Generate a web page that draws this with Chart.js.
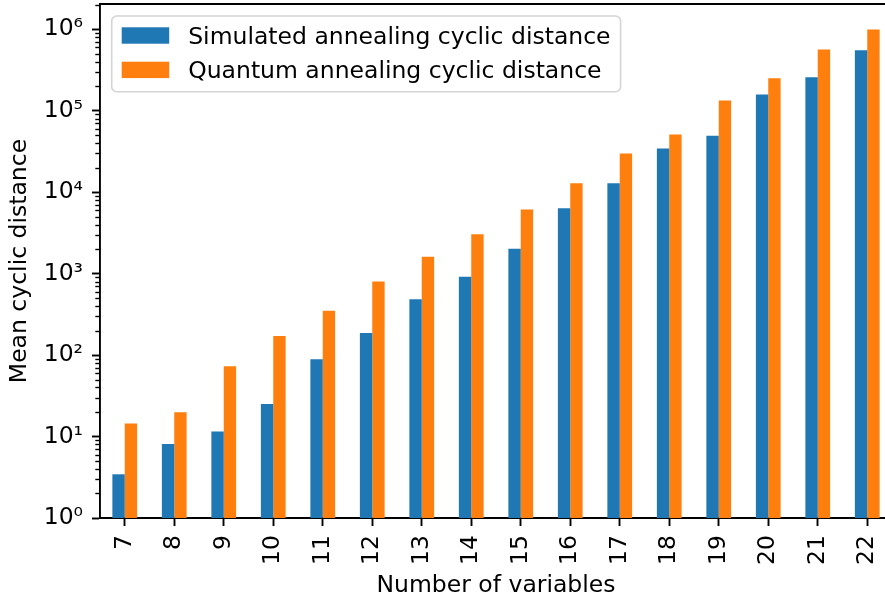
<!DOCTYPE html>
<html>
<head>
<meta charset="utf-8">
<script src="https://cdn.jsdelivr.net/npm/chart.js@4/dist/chart.umd.min.js"></script>
<style>
  html, body { margin: 0; padding: 0; background: #fff; overflow: hidden; width: 885px; height: 601px; }
  #wrap { width: 900px; height: 601px; position: relative; }
</style>
</head>
<body>
<div id="wrap"><canvas id="c" width="900" height="601"></canvas></div>
<script>
// Problem sizes on the x axis
const categories = ['7', '8', '9', '10', '11', '12', '13', '14', '15', '16', '17', '18', '19', '20', '21', '22'];

// Mean cyclic distance per solver
const simulatedDistance = [3.44, 8.1, 11.5, 25, 89, 186, 486, 914, 2020, 6360, 12900, 34400, 49100, 158000, 258000, 553000];
const quantumDistance   = [14.5, 19.8, 73, 172, 350, 802, 1610, 3050, 6130, 12900, 29900, 51000, 133000, 250000, 564000, 991000];

const seriesLabels = ['Simulated annealing cyclic distance', 'Quantum annealing cyclic distance'];
const seriesColors = ['#1f77b4', '#ff7f0e'];

// Major ticks of the log axis and its range
const yTickValues = [1, 10, 100, 1000, 10000, 100000, 1000000];
const yMin = 1;
const yMax = 2.04e6;

const FONT = 'DejaVu Sans';
const FSIZE = 23.5;
const SUP = { '0': '\u2070', '1': '\u00b9', '2': '\u00b2', '3': '\u00b3', '4': '\u2074', '5': '\u2075', '6': '\u2076', '7': '\u2077', '8': '\u2078', '9': '\u2079', '-': '\u207b' };
const powerLabel = v => {
  const e = Math.round(Math.log10(v));
  return '10' + String(e).split('').map(ch => SUP[ch]).join('');
};

// Minor log ticks, top/right spines and the boxed legend inside the plot area
const framePlugin = {
  id: 'frame',
  afterDraw(chart) {
    const { ctx, chartArea: a, scales: { y } } = chart;
    ctx.save();
    ctx.strokeStyle = '#000';
    ctx.lineWidth = 1.4;
    for (let e = 0; e < 7; e++) {
      for (let m = 2; m < 10; m++) {
        const v = m * Math.pow(10, e);
        if (v > y.max) break;
        const py = Math.round(y.getPixelForValue(v)) + 0.5;
        ctx.beginPath();
        ctx.moveTo(a.left - 4.7, py);
        ctx.lineTo(a.left, py);
        ctx.stroke();
      }
    }
    ctx.lineWidth = 1.9;
    ctx.beginPath();
    ctx.moveTo(a.left, a.top);
    ctx.lineTo(a.right, a.top);
    ctx.lineTo(a.right, a.bottom);
    ctx.stroke();

    // legend
    ctx.font = FSIZE + 'px "' + FONT + '"';
    const textW = Math.max(...chart.data.datasets.map(d => ctx.measureText(d.label).width));
    const bx = a.left + 11.7, by = a.top + 12;
    const handleX = bx + 10, handleW = 47.5, handleH = 16.4;
    const textX = handleX + handleW + 19;
    const bw = textX - bx + textW + 10, bh = 75.7;
    const r = 5;
    ctx.beginPath();
    ctx.moveTo(bx + r, by);
    ctx.lineTo(bx + bw - r, by);
    ctx.arcTo(bx + bw, by, bx + bw, by + r, r);
    ctx.lineTo(bx + bw, by + bh - r);
    ctx.arcTo(bx + bw, by + bh, bx + bw - r, by + bh, r);
    ctx.lineTo(bx + r, by + bh);
    ctx.arcTo(bx, by + bh, bx, by + bh - r, r);
    ctx.lineTo(bx, by + r);
    ctx.arcTo(bx, by, bx + r, by, r);
    ctx.closePath();
    ctx.fillStyle = 'rgba(255,255,255,0.8)';
    ctx.fill();
    ctx.strokeStyle = '#d4d4d4';
    ctx.lineWidth = 1.6;
    ctx.stroke();

    ctx.textBaseline = 'alphabetic';
    ctx.textAlign = 'left';
    chart.data.datasets.forEach((d, i) => {
      const rowTop = by + 11.3 + i * 34.4;
      ctx.fillStyle = d.backgroundColor;
      ctx.fillRect(handleX, rowTop, handleW, handleH);
      ctx.fillStyle = '#000';
      ctx.fillText(d.label, textX, rowTop + 16.2);
    });
    ctx.restore();
  }
};

new Chart(document.getElementById('c'), {
  type: 'bar',
  data: {
    labels: categories,
    datasets: [
      { label: seriesLabels[0], data: simulatedDistance, backgroundColor: seriesColors[0], borderWidth: 0, categoryPercentage: 0.5, barPercentage: 1.0 },
      { label: seriesLabels[1], data: quantumDistance,   backgroundColor: seriesColors[1], borderWidth: 0, categoryPercentage: 0.5, barPercentage: 1.0 }
    ]
  },
  options: {
    responsive: false,
    animation: false,
    devicePixelRatio: 1,
    layout: { padding: { top: 4, right: 8, left: 0, bottom: 0 } },
    plugins: { legend: { display: false }, tooltip: { enabled: false } },
    scales: {
      x: {
        offset: true,
        grid: { display: true, drawOnChartArea: false, offset: false, tickLength: 8, tickWidth: 1.9, tickColor: '#000' },
        border: { display: true, color: '#000', width: 1.9 },
        ticks: { autoSkip: false, maxRotation: 90, minRotation: 90, padding: 9, color: '#000', font: { family: FONT, size: FSIZE } },
        title: { display: true, text: 'Number of variables', color: '#000', font: { family: FONT, size: FSIZE }, padding: { top: 0, bottom: 1 } },
        afterFit: s => { s.height = 83; s.paddingLeft = 0; s.paddingRight = 0; }
      },
      y: {
        type: 'logarithmic',
        min: yMin,
        max: yMax,
        afterBuildTicks: s => { s.ticks = yTickValues.map(v => ({ value: v, major: true })); },
        grid: { display: true, drawOnChartArea: false, tickLength: 8, tickWidth: 1.9, tickColor: '#000' },
        border: { display: true, color: '#000', width: 1.9 },
        ticks: { padding: 9, color: '#000', font: { family: FONT, size: FSIZE }, callback: v => powerLabel(v) },
        title: { display: true, text: 'Mean cyclic distance', color: '#000', font: { family: FONT, size: FSIZE }, padding: { top: 6, bottom: 0 } },
        afterFit: s => { s.width = 100; s.paddingTop = 0; s.paddingBottom = 0; }
      }
    }
  },
  plugins: [framePlugin]
});
</script>
</body>
</html>
